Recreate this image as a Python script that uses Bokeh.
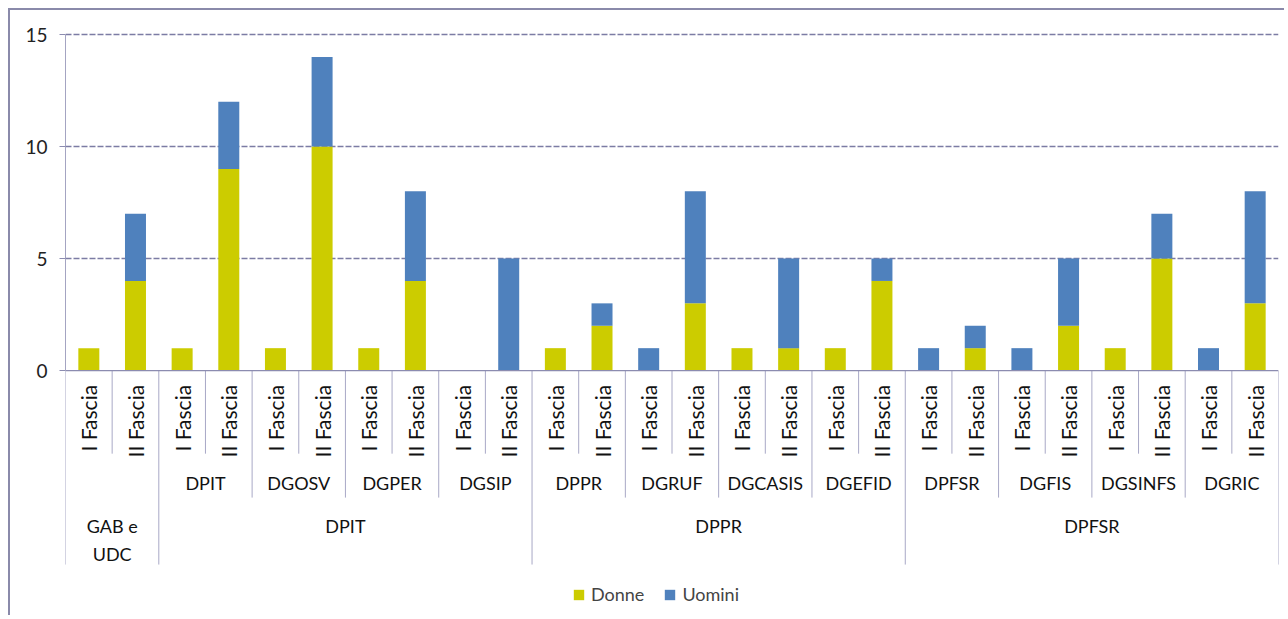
import math
from bokeh.plotting import figure
from bokeh.models import ColumnDataSource, FixedTicker, Span, Legend
from bokeh.core.properties import value
from bokeh.embed import file_html
from bokeh.resources import INLINE

# ---- data ----
fasce = ["I Fascia", "II Fascia"]
subgroups = ["", "DPIT", "DGOSV", "DGPER", "DGSIP", "DPPR", "DGRUF", "DGCASIS",
             "DGEFID", "DPFSR", "DGFIS", "DGSINFS", "DGRIC"]
parents = ["GAB e\nUDC", "DPIT", "DPIT", "DPIT", "DPIT", "DPPR", "DPPR", "DPPR",
           "DPPR", "DPFSR", "DPFSR", "DPFSR", "DPFSR"]
donne = [1, 4, 1, 9, 1, 10, 1, 4, 0, 0, 1, 2, 0, 3, 1, 1, 1, 4, 0, 1, 0, 2, 1, 5, 0, 3]
uomini = [0, 3, 0, 3, 0, 4, 0, 4, 0, 5, 0, 1, 1, 5, 0, 4, 0, 1, 1, 1, 1, 3, 0, 2, 1, 5]
y_ticks = [0, 5, 10, 15]

FONT = "Lato"
FS = "18px"
SEP = "#A8A8C6"
AX = "#8C8CB0"

n = len(donne)
xs = [i + 0.5 for i in range(n)]
fascia_labels = [fasce[i % 2] for i in range(n)]

src = ColumnDataSource(dict(x=xs, donne=donne, uomini=uomini))

p = figure(width=1276, height=607, x_range=(0, n), y_range=(-10.80, 15.18),
           output_backend="svg", toolbar_location=None, x_axis_location=None,
           min_border_left=55, min_border_right=8, min_border_top=20, min_border_bottom=5)
p.styles = {"margin-left": "8px", "margin-top": "8px",
            "border-top": "2px solid #8A8AAA", "border-left": "2px solid #8A8AAA"}
p.outline_line_color = None
p.background_fill_color = "white"

rs = p.vbar_stack(["donne", "uomini"], x="x", width=0.45, source=src,
                  color=["#CCCC00", "#4F81BD"], line_color=None)

# y axis
ya = p.yaxis[0]
ya.ticker = FixedTicker(ticks=y_ticks)
ya.bounds = (0, 15)
ya.axis_line_color = "#A4A4C2"
ya.major_tick_line_color = AX
ya.major_tick_out = 6
ya.major_tick_in = 0
ya.minor_tick_line_color = None
ya.major_label_text_font = FONT
ya.major_label_text_font_size = "19px"
ya.major_label_text_color = "#222222"
ya.major_label_standoff = 12

p.xgrid.visible = False
p.ygrid.ticker = FixedTicker(ticks=[t for t in y_ticks if t > 0])
p.ygrid.grid_line_color = "#7C7CA4"
p.ygrid.grid_line_dash = "6 2"
p.ygrid.grid_line_width = 1.3

p.add_layout(Span(location=0, dimension="width", line_color=AX, line_width=1.2))

# ---- hierarchical category axis (drawn in data space) ----
L1, L2, L3 = -3.71, -5.67, -8.66
sub_of_bar = [j for j in range(len(subgroups)) for _ in fasce]
par_of_bar = [parents[s] for s in sub_of_bar]
bx, by = [], []
for k in range(n + 1):
    if k == 0 or k == n or par_of_bar[k - 1] != par_of_bar[k]:
        d = L3
    elif sub_of_bar[k - 1] != sub_of_bar[k]:
        d = L2
    else:
        d = L1
    bx.append(k)
    by.append(d)
p.segment(x0=bx, y0=[0] * len(bx), x1=bx, y1=by, line_color=SEP, line_width=1)

p.text(x=xs, y=[-0.64] * n, text=fascia_labels, angle=math.pi / 2,
       text_align="right", text_baseline="middle", text_font=value(FONT),
       text_font_size="21px", text_color="#111111")

sx, st = [], []
for j, s in enumerate(subgroups):
    if s:
        sx.append(2 * j + 1)
        st.append(s)
p.text(x=sx, y=[-5.04] * len(sx), text=st, text_align="center", text_baseline="middle",
       text_font=value(FONT), text_font_size=FS, text_color="#111111")

gx, gt = [], []
start = 0
for k in range(1, n + 1):
    if k == n or par_of_bar[k] != par_of_bar[k - 1]:
        gx.append((start + k) / 2)
        gt.append(par_of_bar[k - 1])
        start = k
p.text(x=gx, y=[-6.45] * len(gx), text=gt, text_align="center", text_baseline="top",
       text_font=value(FONT), text_font_size=FS, text_color="#111111",
       text_line_height=1.25)

legend = Legend(items=[("Donne", [rs[0]]), ("Uomini", [rs[1]])],
                location=(507, 7), orientation="horizontal",
                label_text_font=FONT, label_text_font_size=FS,
                glyph_width=13, glyph_height=13, spacing=19, label_standoff=6,
                border_line_color=None, background_fill_alpha=0, margin=0, padding=0)
p.add_layout(legend)

open("out.html", "w").write(file_html(p, INLINE))
